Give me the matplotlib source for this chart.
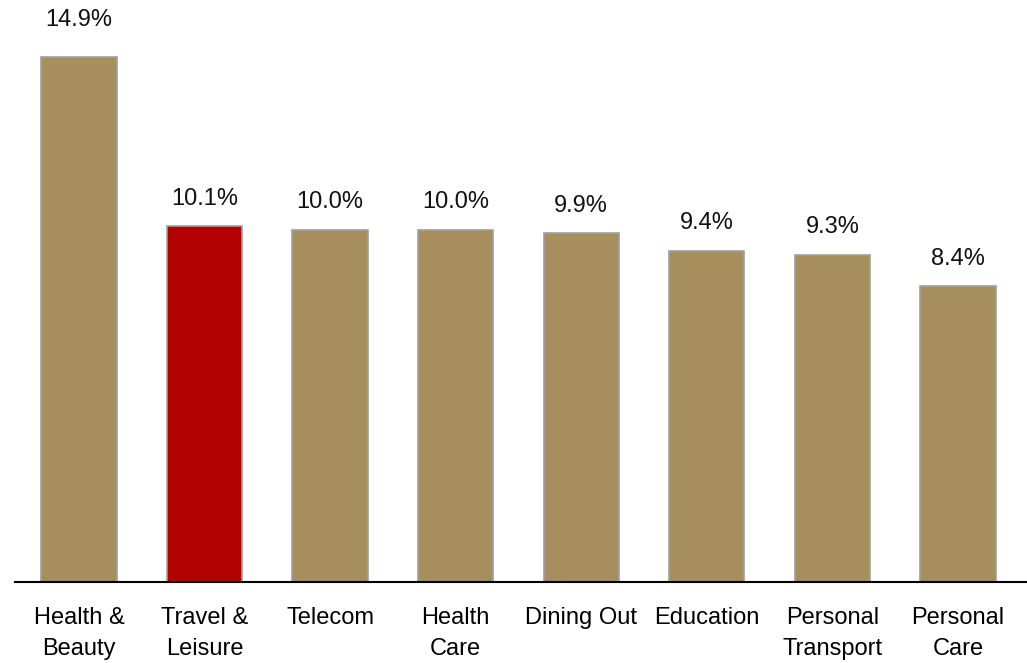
import numpy as np
import matplotlib.pyplot as plt

plt.rcParams['font.family'] = ['Liberation Sans', 'DejaVu Sans']

# Datos
categories = ['Health &\nBeauty', 'Travel &\nLeisure', 'Telecom', 'Health\nCare',
              'Dining Out', 'Education', 'Personal\nTransport', 'Personal\nCare']
values = [14.9, 10.1, 10.0, 10.0, 9.9, 9.4, 9.3, 8.4]
highlight = 'Travel &\nLeisure'

tan = '#A68F5C'
red = '#B30000'
colors = [red if c == highlight else tan for c in categories]

fig = plt.figure(figsize=(10.27, 6.63), dpi=100)
ax = fig.add_axes([15 / 1027, 0.122, 1 - 15 / 1027, 0.878])

x = np.arange(len(categories))
bars = ax.bar(x, values, width=0.6, color=colors, edgecolor='#A0A0A0', linewidth=1.2)

for xi, v in zip(x, values):
    off = 19 if v == max(values) else 12
    ax.annotate(f'{v:.1f}%', (xi, v), xytext=(0, off), textcoords='offset points',
                ha='center', va='bottom', fontsize=17, color='#111111')

ax.set_xlim(-0.51, 7.55)
ax.set_ylim(0, 16.53)
ax.set_xticks(x)
ax.set_xticklabels(categories, fontsize=17, linespacing=1.5)
ax.tick_params(axis='x', length=0, pad=18)
ax.set_yticks([])
for s in ['top', 'right', 'left']:
    ax.spines[s].set_visible(False)
ax.spines['bottom'].set_linewidth(1.5)

fig.savefig('out.png', dpi=100)
